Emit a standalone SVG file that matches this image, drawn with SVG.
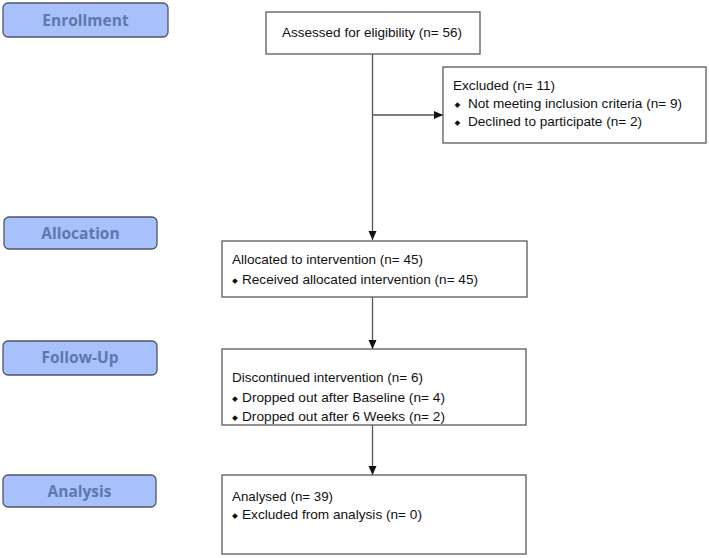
<svg xmlns="http://www.w3.org/2000/svg" width="709" height="558" viewBox="0 0 709 558">
<style>
.stage rect{fill:#a9c1fa;stroke:#4d5566;stroke-width:1.3}
.stage text{font-family:"Open Sans","Noto Sans",sans-serif;font-weight:bold;font-size:15.5px;fill:#5d78ad;text-anchor:middle}
.box rect{fill:#fff;stroke:#5a5a5a;stroke-width:1.3}
.box text{font-family:"Liberation Sans",Arial,sans-serif;font-size:13.5px;fill:#111}
.box text.b{font-family:"DejaVu Sans",sans-serif;font-size:7.5px;text-anchor:middle}
.conn line{stroke:#555;stroke-width:1.3}
</style>
<defs>
<marker id="ah" markerWidth="10" markerHeight="10" refX="9" refY="4" orient="auto" markerUnits="userSpaceOnUse">
<path d="M0,0 L9,4 L0,8 Z" fill="#111"/>
</marker>
</defs>
<rect width="709" height="558" fill="#fff"/>
<g id="stage-enrollment" class="stage"><rect x="3" y="3" width="165" height="34" rx="5"/><text x="85.5" y="26">Enrollment</text></g>
<g id="stage-allocation" class="stage"><rect x="4" y="217" width="153" height="32" rx="5"/><text x="80.5" y="239">Allocation</text></g>
<g id="stage-followup" class="stage"><rect x="3" y="341" width="154" height="34" rx="5"/><text x="80" y="363">Follow-Up</text></g>
<g id="stage-analysis" class="stage"><rect x="3" y="475" width="153" height="32" rx="5"/><text x="79.5" y="497">Analysis</text></g>

<g id="conn" class="conn">
<line x1="372.5" y1="54" x2="372.5" y2="240" marker-end="url(#ah)"/>
<line x1="372.5" y1="115" x2="443" y2="115" marker-end="url(#ah)"/>
<line x1="372.5" y1="297" x2="372.5" y2="349" marker-end="url(#ah)"/>
<line x1="372.5" y1="425" x2="372.5" y2="475" marker-end="url(#ah)"/>
</g>

<g id="assessed" class="box"><rect x="266" y="12" width="214" height="42"/><text x="282" y="37" textLength="180" lengthAdjust="spacingAndGlyphs">Assessed for eligibility (n= 56)</text></g>
<g id="excluded" class="box"><rect x="443" y="67" width="263" height="76"/>
<text x="453" y="90" textLength="102" lengthAdjust="spacingAndGlyphs">Excluded (n= 11)</text>
<text class="b" x="457.5" y="107">◆</text><text x="468" y="108" textLength="214" lengthAdjust="spacingAndGlyphs">Not meeting inclusion criteria (n= 9)</text>
<text class="b" x="457.5" y="125">◆</text><text x="468" y="126" textLength="174" lengthAdjust="spacingAndGlyphs">Declined to participate (n= 2)</text></g>
<g id="allocated" class="box"><rect x="222" y="241" width="305" height="56"/>
<text x="232" y="264" textLength="191" lengthAdjust="spacingAndGlyphs">Allocated to intervention (n= 45)</text>
<text class="b" x="235" y="283">◆</text><text x="242" y="284" textLength="236" lengthAdjust="spacingAndGlyphs">Received allocated intervention (n= 45)</text></g>
<g id="discontinued" class="box"><rect x="222" y="349" width="304" height="76"/>
<text x="232" y="382" textLength="191" lengthAdjust="spacingAndGlyphs">Discontinued intervention (n= 6)</text>
<text class="b" x="235" y="401">◆</text><text x="242" y="402" textLength="203" lengthAdjust="spacingAndGlyphs">Dropped out after Baseline (n= 4)</text>
<text class="b" x="235" y="420">◆</text><text x="242" y="421" textLength="203" lengthAdjust="spacingAndGlyphs">Dropped out after 6 Weeks (n= 2)</text></g>
<g id="analysed" class="box"><rect x="222" y="475" width="304" height="79"/>
<text x="232" y="501" textLength="101" lengthAdjust="spacingAndGlyphs">Analysed (n= 39)</text>
<text class="b" x="235" y="518">◆</text><text x="242" y="519" textLength="180" lengthAdjust="spacingAndGlyphs">Excluded from analysis (n= 0)</text></g>
</svg>
